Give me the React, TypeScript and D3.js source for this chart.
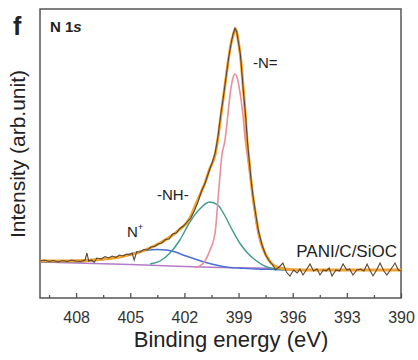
import React, { useEffect, useRef } from "react";
import * as d3 from "d3";

// binding energy (eV) / intensity (a.u.)
const baselineEV = [410, 405, 402, 400, 398, 397];
const baselineI = [36, 33.5, 31.5, 30.5, 30, 29.5];

const nPlusEV = [410, 409, 408, 407, 406, 405.5, 405, 404.5, 404, 403.5, 403, 402.5, 402, 401.5, 401, 400.5, 400, 399.5, 399, 398, 397, 396];
const nPlusI = [36, 36, 36.2, 37.5, 40, 42, 44, 46.5, 48, 48.5, 48, 46, 42.5, 39.5, 36.5, 34, 32, 30.5, 30, 29, 28.5, 28];

const nhEV = [403.9, 403.35, 402.8, 402.25, 401.7, 401.15, 400.6, 400.15, 399.75, 399.35, 398.9, 398.45, 398.0, 397.5, 396.95, 396.4];
const nhI = [34, 37, 45, 58, 76, 89, 96, 93, 82, 68, 54, 44, 37, 31.5, 29, 28];

const nDoubleEV = [401.41, 401.14, 400.86, 400.58, 400.3, 400.14, 399.92, 399.75, 399.64, 399.42, 399.31, 399.2, 399.09, 398.98, 398.86, 398.75, 398.64, 398.48, 398.26, 398.03, 397.81, 397.54, 397.26, 396.82, 396.26];
const nDoubleI = [30.5, 32, 37, 48, 65, 98, 143, 158, 175, 210, 220, 224, 221, 212, 198, 182, 160, 138, 108, 76, 57, 44, 36, 31, 29];

const envEV = [410, 408.34, 406.68, 405.57, 404.46, 403.91, 403.35, 402.8, 402.24, 401.69, 401.41, 401.14, 400.86, 400.58, 400.3, 400.14, 399.92, 399.75, 399.58, 399.42, 399.31, 399.17, 399.09, 398.98, 398.86, 398.75, 398.64, 398.53, 398.42, 398.31, 398.2, 398.03, 397.87, 397.65, 397.42, 397.15, 396.87, 396.43, 395.6, 390];
const envI = [37, 37, 38.5, 41, 46, 50, 55, 61, 69, 80, 92, 103, 115, 130, 143, 160, 190, 213, 236, 254, 262, 269, 265, 253, 236, 212, 188, 158, 138, 118, 101, 81, 64, 50, 41, 34, 31, 29, 28, 28];

const rawEV = [410, 409.75, 409.5, 409.25, 409, 408.75, 408.5, 408.25, 408, 407.75, 407.5, 407.4, 407.3, 407.15, 407, 406.85, 406.6, 406.4, 406.2, 406, 405.8, 405.6, 405.4, 405.2, 405.05, 404.9, 404.78, 404.65, 404.45, 404.25, 404.05, 403.85, 403.65, 403.45, 403.25, 403.05, 402.85, 402.65, 402.45, 402.25, 402.05, 401.85, 401.65, 401.45, 401.25, 401.05, 400.85, 400.65, 400.45, 400.3, 400.15, 400, 399.85, 399.7, 399.55, 399.4, 399.3, 399.2, 399.1, 399, 398.9, 398.8, 398.7, 398.6, 398.5, 398.4, 398.3, 398.2, 398.05, 397.9, 397.7, 397.5, 397.3, 397.1, 396.95, 396.75, 396.54, 396.35, 396.15, 395.95, 395.75, 395.6, 395.43, 395.25, 395.04, 394.85, 394.65, 394.49, 394.3, 394.15, 393.98, 393.82, 393.6, 393.4, 393.21, 393, 392.85, 392.66, 392.45, 392.25, 392.05, 391.88, 391.7, 391.55, 391.35, 391.16, 390.95, 390.78, 390.55, 390.33, 390.15, 390];
const rawI = [37, 38, 36.5, 37.5, 36, 37.5, 36.5, 38, 37, 36.5, 38, 45, 37, 38, 35.5, 40, 39, 41.5, 40, 42, 40.5, 43, 42, 44, 43, 45, 38, 46, 46, 48.5, 48, 51, 51.5, 54, 55, 58.5, 59, 64, 65, 69.5, 72, 76, 80, 87, 96, 107, 115, 126, 136, 145, 160, 182, 200, 220, 240, 256, 264, 270, 266, 255, 244, 222, 200, 180, 155, 136, 117, 102, 84, 67, 53, 43, 37, 33, 28, 31, 35, 26, 22, 28, 25, 29, 23, 28, 34, 27, 29, 23, 28, 27, 30, 22, 28, 27, 34, 28, 29, 23, 28, 29, 27, 34, 27, 22, 28, 35, 27, 23, 29, 35, 28, 27];

const majorTicks = [408, 405, 402, 399, 396, 393, 390];
const minorTicks = [409.5, 406.5, 403.5, 400.5, 397.5, 394.5, 391.5];

const zip = (xs: number[], ys: number[]) => xs.map((x, i) => [x, ys[i]] as [number, number]);

const margin = { top: 9, right: 17, bottom: 62, left: 40 };
const W = 418;
const H = 360;
const font = "'Liberation Sans', Arial, Helvetica, sans-serif";

export default function App() {
  const axisRef = useRef<SVGGElement>(null);

  const x = d3.scaleLinear().domain([410, 390]).range([margin.left, W - margin.right]);
  const y = d3.scaleLinear().domain([0, 289]).range([H - margin.bottom, margin.top]);

  const smooth = d3.line<[number, number]>().x((d) => x(d[0])).y((d) => y(d[1])).curve(d3.curveMonotoneX);
  const straight = d3.line<[number, number]>().x((d) => x(d[0])).y((d) => y(d[1]));

  // monotone needs increasing x, so sort by screen position
  const path = (xs: number[], ys: number[], gen = smooth) =>
    gen(zip(xs, ys).sort((a, b) => b[0] - a[0])) || "";

  useEffect(() => {
    const g = d3.select(axisRef.current);
    g.selectAll("*").remove();

    g.append("g")
      .call(d3.axisBottom(x).tickValues(minorTicks).tickSize(-3).tickFormat(() => ""))
      .call((s) => s.select(".domain").remove());

    g.append("g")
      .call(d3.axisBottom(x).tickValues(majorTicks).tickSize(-5).tickPadding(14).tickFormat(d3.format("d")))
      .call((s) => s.select(".domain").remove())
      .call((s) =>
        s.selectAll("text").attr("font-size", 16).attr("font-family", font).attr("fill", "#333")
      );

    g.selectAll("line").attr("stroke", "#555").attr("stroke-width", 1.3);
  });

  return (
    <svg width={W} height={H} style={{ position: "absolute", left: 0, top: 0, background: "#fff" }}>
      <rect
        x={margin.left}
        y={margin.top}
        width={W - margin.left - margin.right}
        height={H - margin.top - margin.bottom}
        fill="none"
        stroke="#555"
        strokeWidth={1.5}
      />
      <g ref={axisRef} transform={`translate(0, ${H - margin.bottom})`} />

      <path d={path(baselineEV, baselineI, straight)} fill="none" stroke="#b57ac9" strokeWidth={1.3} />
      <path d={path(nPlusEV, nPlusI)} fill="none" stroke="#4a6fd4" strokeWidth={1.4} />
      <path d={path(nhEV, nhI)} fill="none" stroke="#3f9a8a" strokeWidth={1.4} />
      <path d={path(nDoubleEV, nDoubleI)} fill="none" stroke="#ea8f9c" strokeWidth={1.6} />
      <path d={path(envEV, envI)} fill="none" stroke="#f0a232" strokeWidth={2.8} />
      <path d={path(rawEV, rawI, straight)} fill="none" stroke="#5a4632" strokeWidth={1.1} />

      <g fontFamily={font} fill="#222">
        <text x={13} y={35} fontSize={25} fontWeight="bold">f</text>
        <text x={50} y={32} fontSize={15} fontWeight="bold">
          N 1<tspan fontStyle="italic">s</tspan>
        </text>
        <text x={253} y={68} fontSize={15}>-N=</text>
        <text x={157} y={200} fontSize={15}>-NH-</text>
        <text x={127} y={237} fontSize={15}>
          N<tspan fontSize={9} dy={-7}>+</tspan>
        </text>
        <text x={397} y={257} fontSize={17} textAnchor="end">PANI/C/SiOC</text>
        <text x={231} y={347} fontSize={22} textAnchor="middle">Binding energy (eV)</text>
        <text transform="translate(25, 154) rotate(-90)" fontSize={21} textAnchor="middle">
          Intensity (arb.unit)
        </text>
      </g>
    </svg>
  );
}
